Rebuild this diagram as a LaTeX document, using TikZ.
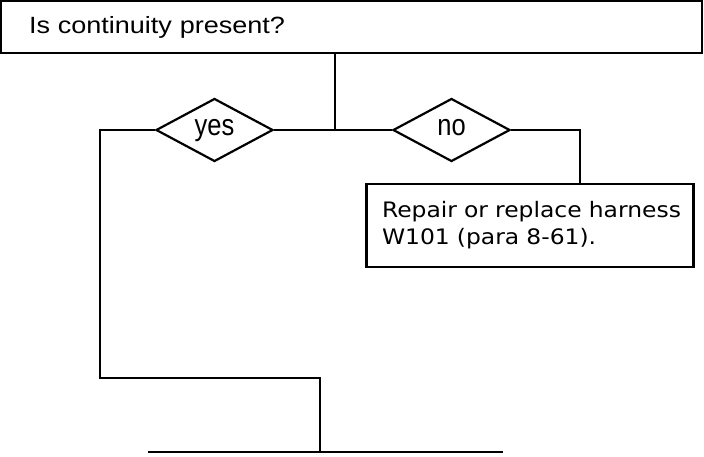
\documentclass[tikz,border=0pt]{standalone}
\usepackage{fontspec}
\setmainfont{Liberation Sans}
\newfontfamily\questionfont[FakeStretch=1.15]{Liberation Sans}
\newfontfamily\boxfont[FakeStretch=1.10]{DejaVu Sans}
\newfontfamily\answerfont[FakeStretch=0.85]{Liberation Sans}
\usetikzlibrary{shapes.geometric}

\begin{document}
\begin{tikzpicture}[x=1pt,y=-1pt,line width=2.2pt,
  box/.style={draw,rectangle,inner sep=0pt,align=left},
  answer/.style={draw,diamond,inner sep=0pt,minimum width=117pt,minimum height=63pt,
    text height=15.6pt,text depth=4pt,font=\answerfont\fontsize{30}{32}\selectfont}]
  \useasboundingbox (0,0) rectangle (704,456);
  \node[box,minimum width=701pt,minimum height=52pt,text width=645pt,font=\questionfont\fontsize{23.5}{28}\selectfont] (question) at (351.5,27) {Is continuity present?};
  \coordinate (split) at (335,130);
  \node[answer] (yes) at (214.5,130) {yes};
  \node[answer] (no) at (451.5,130) {no};
  \node[box,minimum width=327pt,minimum height=83pt,text width=296pt,font=\boxfont\fontsize{21.3}{27}\selectfont] (repair) at (530,225.5) {\mbox{Repair or replace harness}\\W101 (para 8-61).};
  \coordinate (yes turn) at (100,130);
  \coordinate (no turn) at (580,130);
  \coordinate (join) at (320,378);
  \coordinate (bar left) at (148,452);
  \coordinate (bar right) at (503,452);
  \draw (question.south -| split) -- (split);
  \draw (yes) -- (no);
  \draw (no) -- (no turn) -- (no turn |- repair.north);
  \draw (yes) -- (yes turn) -- (yes turn |- join) -- (join) -- (join |- bar left);
  \draw (bar left) -- (bar right);
\end{tikzpicture}
\end{document}
